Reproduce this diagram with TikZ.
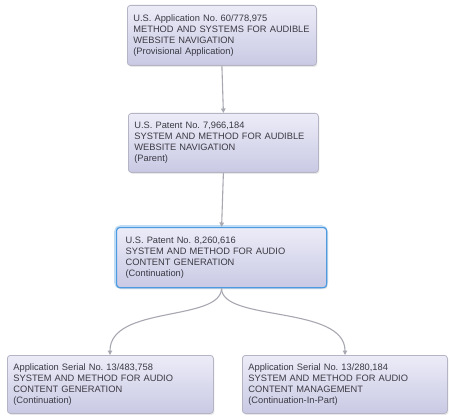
\documentclass[tikz,border=0pt]{standalone}
\usepackage{fontspec}
\setmainfont{Liberation Sans}
\frenchspacing
\usetikzlibrary{shadows,arrows.meta}
\definecolor{boxtop}{HTML}{ECECF8}
\definecolor{boxbot}{HTML}{C9C9E4}
\definecolor{boxline}{HTML}{B4B4C4}
\definecolor{txt}{HTML}{3A3A44}
\definecolor{conn}{HTML}{A8A8B2}
\definecolor{glow}{HTML}{4C9BE0}
\newcommand{\lines}[1]{\begin{tabular}{@{}l@{}}#1\end{tabular}}
\tikzset{
  appbox/.style={draw=boxline, line width=0.8pt, rounded corners=3pt,
    top color=boxtop, bottom color=boxbot, anchor=north west,
    inner xsep=6pt, inner ysep=0pt, align=left, text=txt,
    font=\fontsize{9.3}{11}\selectfont,
    drop shadow={opacity=0.18, shadow xshift=1pt, shadow yshift=-1.5pt}},
  conline/.style={draw=conn, line width=1.1pt, -{Triangle[length=4.5pt,width=4.5pt]}}
}
\begin{document}
\begin{tikzpicture}[x=1pt,y=-1pt]
\useasboundingbox (0,0) rectangle (450,417);
\fill[white] (0,0) rectangle (450,417);
\node[appbox, text width=177pt, minimum height=60pt] (prov) at (127,5)
  {\lines{U.S. Application No. 60/778,975\\METHOD AND SYSTEMS FOR AUDIBLE\\WEBSITE NAVIGATION\\(Provisional Application)}};
\node[appbox, text width=178pt, minimum height=59pt] (par) at (128,113)
  {\lines{U.S. Patent No. 7,966,184\\SYSTEM AND METHOD FOR AUDIBLE\\WEBSITE NAVIGATION\\(Parent)}};
\draw[glow!35, line width=4pt, rounded corners=5pt] (116,227) rectangle (326,287);
\node[appbox, draw=glow, line width=1.2pt, inner xsep=9pt, text width=192pt, minimum height=60pt] (cont) at (116,227)
  {\lines{U.S. Patent No. 8,260,616\\SYSTEM AND METHOD FOR AUDIO\\CONTENT GENERATION\\(Continuation)}};
\node[appbox, text width=194pt, minimum height=58pt] (cgen) at (7,355)
  {\lines{Application Serial No. 13/483,758\\SYSTEM AND METHOD FOR AUDIO\\CONTENT GENERATION\\(Continuation)}};
\node[appbox, text width=193pt, minimum height=58pt] (cip) at (242,355)
  {\lines{Application Serial No. 13/280,184\\SYSTEM AND METHOD FOR AUDIO\\CONTENT MANAGEMENT\\(Continuation-In-Part)}};
\draw[conline] (prov.south) -- (par.north);
\draw[conline] (par.south) -- (cont.north);
\draw[conline] (cont.south) .. controls (221,322) and (110,305) .. (cgen.north -| 110,0);
\draw[conline] (cont.south) .. controls (221,322) and (345,305) .. (cip.north -| 345,0);
\end{tikzpicture}
\end{document}
